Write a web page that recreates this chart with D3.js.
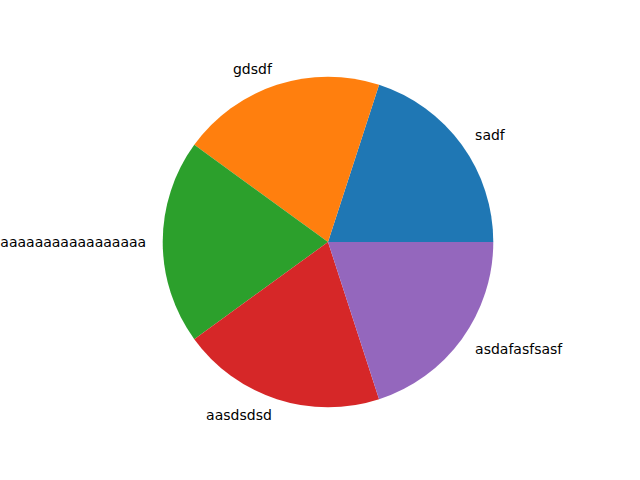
<!DOCTYPE html>
<html>
<head>
<meta charset="utf-8">
<script src="https://cdn.jsdelivr.net/npm/d3@7"></script>
<style>
html,body{margin:0;padding:0;background:#fff;}
svg{display:block;}
</style>
</head>
<body>
<svg id="chart" width="640" height="480"></svg>
<script>
const labels = ["sadf", "gdsdf", "aaaaaaaaaaaaaaaaa", "aasdsdsd", "asdafasfsasf"];
const values = [1, 1, 1, 1, 1];
const colors = ["#1f77b4", "#ff7f0e", "#2ca02c", "#d62728", "#9467bd"];

const svg = d3.select("#chart");
const cx = 328, cy = 242, r = 165.3;
const g = svg.append("g").attr("transform", `translate(${cx},${cy})`);

// matplotlib: start at east, counterclockwise. d3: 0 at north, clockwise.
const pie = d3.pie().sort(null).startAngle(Math.PI / 2).endAngle(Math.PI / 2 - 2 * Math.PI);
const pieData = pie(values);
const arc = d3.arc().innerRadius(0).outerRadius(r);

g.selectAll("path").data(pieData).enter().append("path")
  .attr("d", arc)
  .attr("fill", (d, i) => colors[i]);

g.selectAll("text").data(pieData).enter().append("text")
  .each(function(d, i) {
    const a = (d.startAngle + d.endAngle) / 2;
    const x = 1.1 * r * Math.sin(a);
    const y = -1.1 * r * Math.cos(a);
    d3.select(this)
      .attr("x", x)
      .attr("y", y)
      .attr("text-anchor", x > 0.001 ? "start" : "end")
      .attr("dominant-baseline", "central")
      .attr("font-family", "DejaVu Sans")
      .attr("font-size", "14px")
      .attr("fill", "#000")
      .text(labels[i]);
  });
</script>
</body>
</html>
